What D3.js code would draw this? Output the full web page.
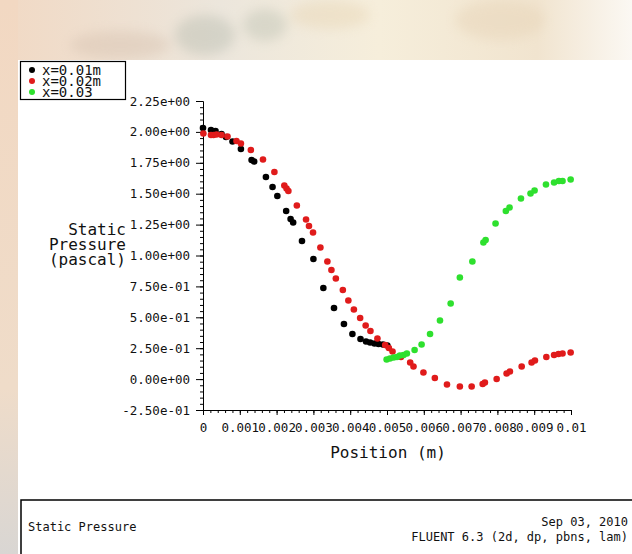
<html>
<head>
<script src="https://d3js.org/d3.v7.min.js"></script>
<style>
  body { margin: 0; background: #fff; }
  text { font-family: "DejaVu Sans Mono", monospace; fill: #111; }
</style>
</head>
<body>
<svg width="632" height="554"></svg>
<script>
// series: position (m) vs static pressure (pascal)
var seriesNames = ['x=0.01m', 'x=0.02m', 'x=0.03'];
var seriesColors = ['#000000', '#e01b1b', '#2ee02e'];

var posA = [0, 0.000217, 0.00034, 0.000503, 0.000625, 0.000802, 0.00103, 0.00132, 0.00139, 0.00171,
  0.00189, 0.00202, 0.00226, 0.00238, 0.00245, 0.00269, 0.00300, 0.00327, 0.00356, 0.00383,
  0.00406, 0.00428, 0.00443, 0.00454, 0.00466, 0.00477, 0.00489, 0.00501];
var presA = [2.032, 2.015, 2.007, 1.983, 1.959, 1.922, 1.862, 1.773, 1.760, 1.635,
  1.554, 1.481, 1.360, 1.295, 1.267, 1.117, 0.972, 0.737, 0.575, 0.446,
  0.365, 0.324, 0.304, 0.296, 0.288, 0.284, 0.280, 0.272];

var posB = [0.00001, 0.000217, 0.000285, 0.000367, 0.000503, 0.000666, 0.00091, 0.00103, 0.0013, 0.00163,
  0.00194, 0.00221, 0.00227, 0.00232, 0.00255, 0.0028, 0.00288, 0.00299, 0.00319, 0.00338,
  0.00349, 0.00361, 0.0038, 0.00395, 0.0041, 0.00427, 0.00442, 0.00455, 0.00474, 0.00495,
  0.00505, 0.00515, 0.00538, 0.00563, 0.00572, 0.00599, 0.0063, 0.00663, 0.00698, 0.0073,
  0.0076, 0.00766, 0.00798, 0.00825, 0.00834, 0.00866, 0.00893, 0.00902, 0.00933, 0.00954,
  0.00966, 0.00977, 0.00999];
var presB = [1.987, 1.975, 1.975, 1.979, 1.975, 1.963, 1.926, 1.906, 1.854, 1.777,
  1.676, 1.566, 1.542, 1.522, 1.405, 1.291, 1.239, 1.186, 1.065, 0.951,
  0.883, 0.814, 0.721, 0.636, 0.563, 0.494, 0.434, 0.389, 0.328, 0.276,
  0.252, 0.223, 0.179, 0.134, 0.102, 0.053, 0.009, -0.044, -0.060, -0.060,
  -0.040, -0.028, 0.001, 0.045, 0.061, 0.102, 0.134, 0.150, 0.179, 0.195,
  0.203, 0.207, 0.215];

var posC = [0.00499, 0.00508, 0.00518, 0.00527, 0.00535, 0.00545, 0.00554, 0.00575, 0.00594, 0.00617,
  0.00644, 0.00673, 0.00698, 0.00732, 0.00762, 0.00768, 0.00795, 0.00823, 0.00833, 0.00864,
  0.0089, 0.00901, 0.00932, 0.00954, 0.00967, 0.00977, 0.00999];
var presC = [0.159, 0.167, 0.175, 0.179, 0.191, 0.195, 0.207, 0.235, 0.280, 0.365,
  0.474, 0.612, 0.822, 0.951, 1.105, 1.125, 1.259, 1.360, 1.388, 1.461,
  1.502, 1.526, 1.574, 1.591, 1.603, 1.603, 1.615];

var yTicks = [-0.25, 0, 0.25, 0.5, 0.75, 1, 1.25, 1.5, 1.75, 2, 2.25];
var xTicks = [0, 0.001, 0.002, 0.003, 0.004, 0.005, 0.006, 0.007, 0.008, 0.009, 0.01];
var xTickLabels = ['0', '0.001', '0.002', '0.003', '0.004', '0.005', '0.006', '0.007', '0.008', '0.009', '0.01'];

var svg = d3.select('svg');

// faded backdrop of the slide (top band and left strip)
var defs = svg.append('defs');
var g1 = defs.append('linearGradient').attr('id', 'band').attr('x1', 0).attr('x2', 1);
g1.append('stop').attr('offset', 0).attr('stop-color', '#f1d9c4');
g1.append('stop').attr('offset', 0.35).attr('stop-color', '#ece6dc');
g1.append('stop').attr('offset', 0.6).attr('stop-color', '#f6eedb');
g1.append('stop').attr('offset', 0.85).attr('stop-color', '#f1e4cf');
g1.append('stop').attr('offset', 1).attr('stop-color', '#fbf8f3');
var g2 = defs.append('linearGradient').attr('id', 'strip').attr('x1', 0).attr('x2', 0).attr('y1', 0).attr('y2', 1);
g2.append('stop').attr('offset', 0).attr('stop-color', '#f2d8c2');
g2.append('stop').attr('offset', 0.7).attr('stop-color', '#efdcc9');
g2.append('stop').attr('offset', 1).attr('stop-color', '#d9d6d3');
defs.append('filter').attr('id', 'blur').append('feGaussianBlur').attr('stdDeviation', 6);

svg.append('rect').attr('width', 632).attr('height', 60).attr('fill', 'url(#band)');
svg.append('rect').attr('y', 0).attr('width', 18).attr('height', 554).attr('fill', 'url(#strip)');
var blobs = svg.append('g').attr('filter', 'url(#blur)').attr('opacity', 0.45);
blobs.append('ellipse').attr('cx', 120).attr('cy', 45).attr('rx', 50).attr('ry', 14).attr('fill', '#d7c2b0');
blobs.append('ellipse').attr('cx', 205).attr('cy', 35).attr('rx', 30).attr('ry', 20).attr('fill', '#b9bdb0');
blobs.append('ellipse').attr('cx', 265).attr('cy', 25).attr('rx', 22).attr('ry', 16).attr('fill', '#bfc3b4');
blobs.append('ellipse').attr('cx', 330).attr('cy', 15).attr('rx', 40).attr('ry', 14).attr('fill', '#e8d6b5');
blobs.append('ellipse').attr('cx', 500).attr('cy', 20).attr('rx', 45).attr('ry', 20).attr('fill', '#e6d3b6');

// white plot window
svg.append('rect').attr('x', 18).attr('y', 60).attr('width', 614).attr('height', 494).attr('fill', '#fff');

var x = d3.scaleLinear().domain([0, 0.01]).range([203, 571]);
var y = d3.scaleLinear().domain([-0.25, 2.25]).range([410, 101]);

function sci(v) {
  var s = v.toExponential(2);
  var parts = s.split('e');
  var sign = parts[1][0];
  var num = parts[1].slice(1);
  if (num.length < 2) num = '0' + num;
  return parts[0] + 'e' + sign + num;
}

// y axis: minor then major
var yMinor = d3.range(-0.25, 2.2501, 0.05);
svg.append('g').attr('transform', 'translate(203,0)')
  .call(d3.axisLeft(y).tickValues(yMinor).tickSize(3).tickSizeOuter(0).tickFormat(''))
  .call(function(g) { g.selectAll('line,path').attr('stroke', '#000'); });
var yAx = svg.append('g').attr('transform', 'translate(203,0)')
  .call(d3.axisLeft(y).tickValues(yTicks).tickSize(7).tickSizeOuter(0).tickPadding(6).tickFormat(sci));
yAx.selectAll('line,path').attr('stroke', '#000');
yAx.selectAll('text').style('font-family', '"DejaVu Sans Mono", monospace').style('font-size', '12.5px').attr('fill', '#111');

// x axis
var xMinor = d3.range(0, 0.01001, 0.0002);
svg.append('g').attr('transform', 'translate(0,410)')
  .call(d3.axisBottom(x).tickValues(xMinor).tickSize(3).tickSizeOuter(0).tickFormat(''))
  .call(function(g) { g.selectAll('line,path').attr('stroke', '#000'); });
var xAx = svg.append('g').attr('transform', 'translate(0,410)')
  .call(d3.axisBottom(x).tickValues(xTicks).tickSize(5).tickSizeOuter(0).tickPadding(8)
    .tickFormat(function(d, i) { return xTickLabels[i]; }));
xAx.selectAll('line,path').attr('stroke', '#000');
xAx.selectAll('text').style('font-family', '"DejaVu Sans Mono", monospace').style('font-size', '12.5px').attr('fill', '#111');

// axis titles
svg.append('text').attr('x', 388).attr('y', 458).attr('text-anchor', 'middle')
  .style('font-size', '16px').text('Position (m)');
var yt = ['Static', 'Pressure', '(pascal)'];
svg.selectAll('.ytitle').data(yt).enter().append('text')
  .attr('x', 126).attr('y', function(d, i) { return 235 + i * 15; })
  .attr('text-anchor', 'end').style('font-size', '16px').text(function(d) { return d; });

// points
var allSeries = [[posA, presA], [posB, presB], [posC, presC]];
allSeries.forEach(function(s, k) {
  svg.append('g').selectAll('circle').data(s[0]).enter().append('circle')
    .attr('cx', function(d) { return x(d); })
    .attr('cy', function(d, i) { return y(s[1][i]); })
    .attr('r', 3.3)
    .attr('fill', seriesColors[k]);
});

// legend
svg.append('rect').attr('x', 20.5).attr('y', 61.5).attr('width', 105).attr('height', 38)
  .attr('fill', '#fff').attr('stroke', '#000').attr('stroke-width', 1.2);
var leg = svg.selectAll('.leg').data(seriesNames).enter().append('g')
  .attr('transform', function(d, i) { return 'translate(32,' + (70 + i * 11) + ')'; });
leg.append('circle').attr('r', 3).attr('fill', function(d, i) { return seriesColors[i]; });
leg.append('text').attr('x', 10).attr('y', 5).style('font-size', '14px').text(function(d) { return d; });

// footer box
svg.append('rect').attr('x', 21).attr('y', 500).attr('width', 620).attr('height', 70)
  .attr('fill', '#fff').attr('stroke', '#000').attr('stroke-width', 1.5);
svg.append('text').attr('x', 28).attr('y', 531).style('font-size', '12px').text('Static Pressure');
svg.append('text').attr('x', 628).attr('y', 526).attr('text-anchor', 'end').style('font-size', '12px').text('Sep 03, 2010');
svg.append('text').attr('x', 628).attr('y', 541).attr('text-anchor', 'end').style('font-size', '12px').text('FLUENT 6.3 (2d, dp, pbns, lam)');
</script>
</body>
</html>
